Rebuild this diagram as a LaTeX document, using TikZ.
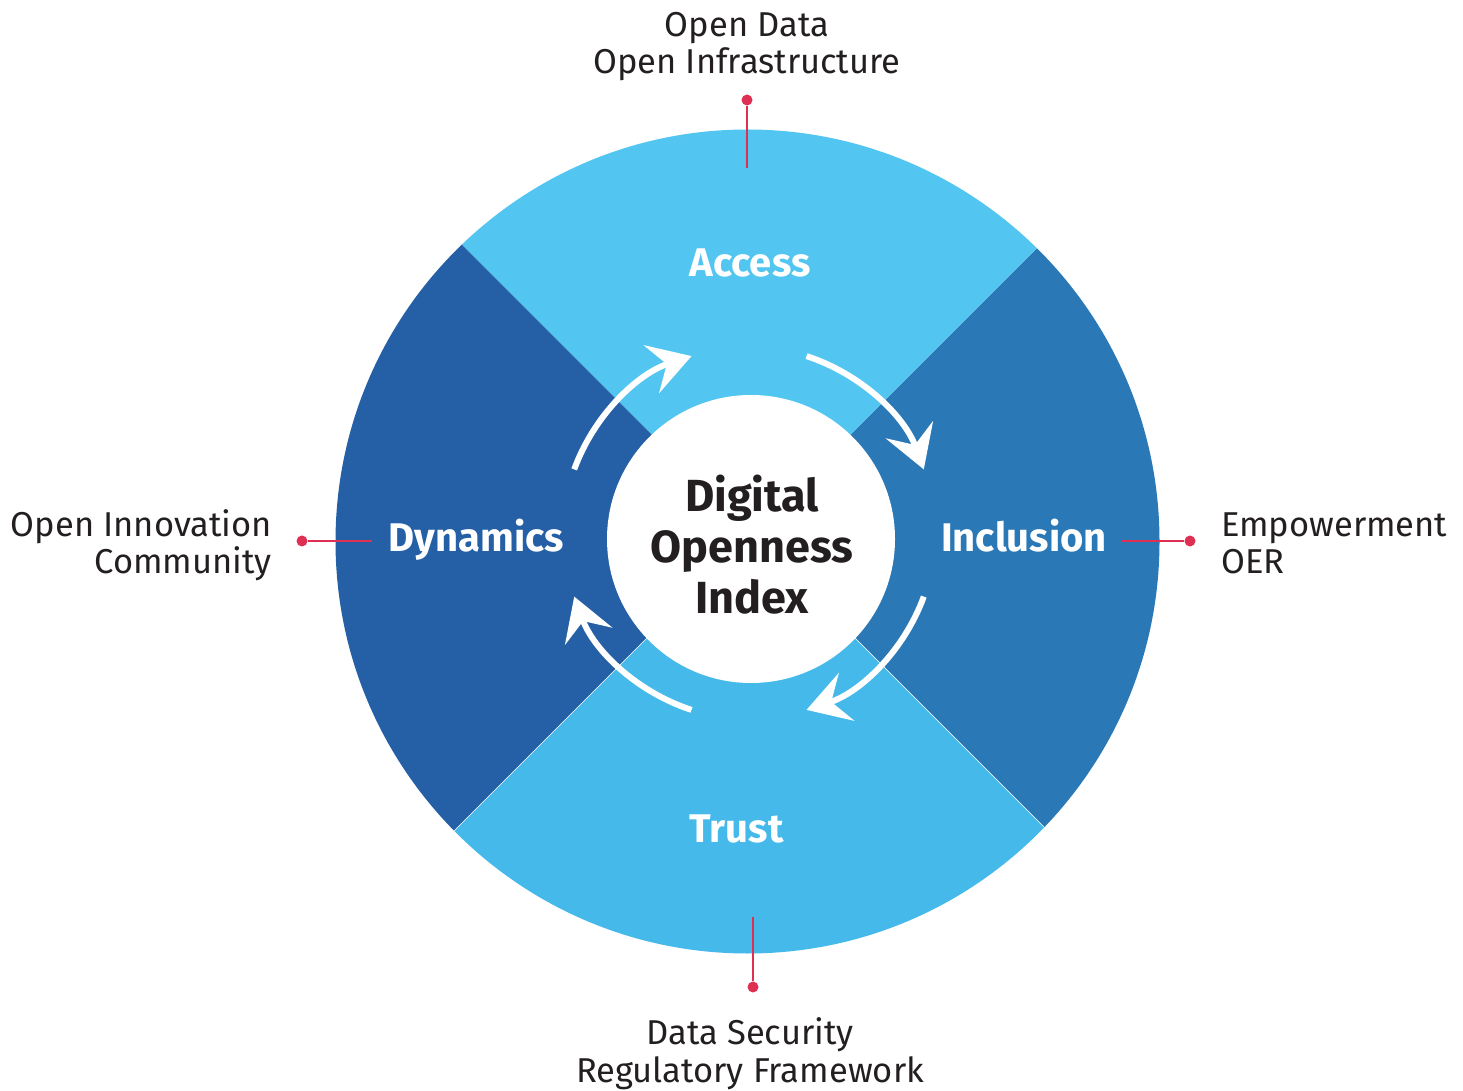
\documentclass[tikz,border=0pt]{standalone}
\usepackage{fontspec}
\setmainfont{Fira Sans}
\usetikzlibrary{arrows.meta}
\definecolor{accessblue}{RGB}{82,198,240}
\definecolor{trustblue}{RGB}{68,185,234}
\definecolor{inclblue}{RGB}{43,120,182}
\definecolor{dynblue}{RGB}{37,96,166}
\definecolor{pinred}{RGB}{221,48,82}
\definecolor{labelgray}{RGB}{35,31,32}

\begin{document}
\begin{tikzpicture}[x=1pt,y=1pt,
  sectorlabel/.style={text=white,font=\fontsize{40}{44}\selectfont\bfseries,anchor=base},
  sidelabel/.style={text=labelgray,font=\fontsize{34.5}{37.5}\selectfont,inner sep=0pt},
  pinline/.style={draw=pinred,line width=2pt},
  pindot/.style={circle,fill=pinred,inner sep=0pt,minimum size=11pt},
  cyclearrow/.style={white,line width=6pt,-{Stealth[length=42pt,width=50pt,inset=16pt]}}]
\useasboundingbox (0,0) rectangle (1463,1090);
\coordinate (disc) at (747.5,548.5);
\coordinate (cross) at (751,556);
\coordinate (ring) at (749,557);
% the four sectors
\begin{scope}
\clip (disc) circle (412);
\foreach \a/\col in {-45/inclblue,45/accessblue,135/dynblue,225/trustblue}
  \fill[\col] (cross) -- ([shift={(\a:700)}]cross) -- ([shift={(\a+90:700)}]cross) -- cycle;
\draw[white,line width=0.6pt] (cross) -- ++(225:600);
\draw[white,line width=0.6pt] (cross) -- ++(315:600);
\end{scope}
% core
\node[circle,fill=white,minimum size=288pt,inner sep=0pt] (core) at (751,551) {};
\node[text=labelgray,font=\fontsize{45}{51}\selectfont\bfseries,align=center] (coretext) at (752,545) {Digital\\Openness\\Index};
% sector names
\node[sectorlabel] (access) at (750,813) {Access};
\node[sectorlabel] (inclusion) at (1024,538) {Inclusion};
\node[sectorlabel] (trust) at (736.5,248) {Trust};
\node[sectorlabel] (dynamics) at (476.5,538) {Dynamics};
% cycle arrows
\draw[cyclearrow] ([shift={(160:186)}]ring) arc[start angle=160,end angle=108,radius=186];
\draw[cyclearrow] ([shift={(72:186)}]ring) arc[start angle=72,end angle=20,radius=186];
\draw[cyclearrow] ([shift={(-20:186)}]ring) arc[start angle=-20,end angle=-72,radius=186];
\draw[cyclearrow] ([shift={(252:186)}]ring) arc[start angle=252,end angle=200,radius=186];
% pins and outer labels
\node[pindot] (pintop) at (747,990) {};
\coordinate (pintopend) at (747,922);
\draw[pinline] (pintop) -- (pintopend);
\node[sidelabel,align=center,anchor=base] (labtop) at (747,1016) {Open Data\\Open Infrastructure};
\node[pindot] (pinright) at (1190,549) {};
\coordinate (pinrightend) at (1122,549);
\draw[pinline] (pinright) -- (pinrightend);
\node[sidelabel,align=left,anchor=base west] (labright) at (1221,516) {Empowerment\\OER};
\node[pindot] (pinleft) at (302,549) {};
\coordinate (pinleftend) at (372,549);
\draw[pinline] (pinleft) -- (pinleftend);
\node[sidelabel,align=right,anchor=base east] (lableft) at (272,516) {Open Innovation\\Community};
\node[pindot] (pinbottom) at (753,103) {};
\coordinate (pinbottomend) at (753,173);
\draw[pinline] (pinbottom) -- (pinbottomend);
\node[sidelabel,align=center,anchor=base] (labbottom) at (750,8) {Data Security\\Regulatory Framework};
\end{tikzpicture}
\end{document}
